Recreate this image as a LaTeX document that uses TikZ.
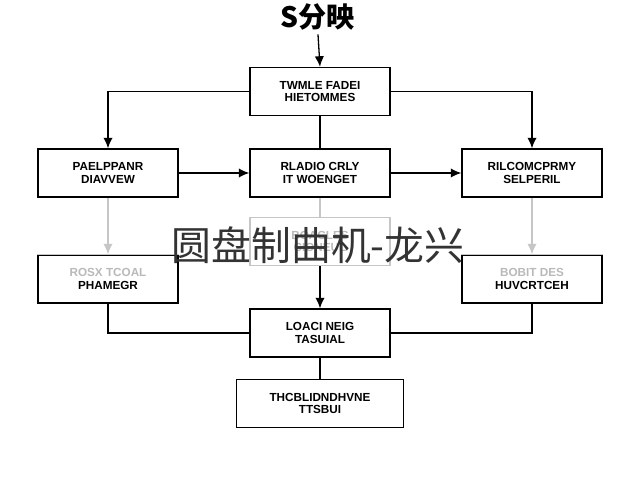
\documentclass[tikz,border=0pt]{standalone}
\usepackage{fontspec}
\setmainfont{Liberation Sans}
\newfontfamily\cjk{Noto Sans CJK SC}
\usetikzlibrary{arrows.meta}
\begin{document}
\begin{tikzpicture}[x=0.03cm,y=-0.03cm,
 box/.style={draw,line width=1.2pt,minimum width=140*0.03cm,minimum height=48*0.03cm,align=center,font=\fontsize{10}{11}\selectfont\bfseries,inner sep=1pt},
 gbox/.style={box,draw=gray!45,text=gray!55},
 ln/.style={line width=1.1pt},
 ar/.style={ln,-{Latex[length=9pt,width=8pt]}},
 gar/.style={ar,draw=gray!45}]
\useasboundingbox (0,0) rectangle (640,480);
\node[font=\cjk\fontsize{24}{26}\selectfont\bfseries] (title) at (318,17) {S分映};
\node[box] (top) at (320,91.5) {TWMLE FADEI\\HIETOMMES};
\node[box] (lm) at (108,173) {PAELPPANR\\DIAVVEW};
\node[box] (cm) at (320,173) {RLADIO CRLY\\IT WOENGET};
\node[box] (rm) at (532,173) {RILCOMCPRMY\\SELPERIL};
\node[gbox] (c3) at (320,241.5) {BOACLES\\CIONEUL};
\node[box,draw=black] (l3) at (108,279) {\textcolor{gray!55}{ROSX TCOAL}\\PHAMEGR};
\node[box] (r3) at (532,279) {\textcolor{gray!55}{BOBIT DES}\\HUVCRTCEH};
\draw[gray!45,line width=1.3pt] (l3.north west) -- (l3.north east);
\draw[gray!45,line width=1.3pt] (r3.north west) -- (r3.north east);
\node[box] (b1) at (320,333) {LOACI NEIG\\TASUIAL};
\node[box,minimum width=167*0.03cm] (b2) at (320,403.5) {THCBLIDNDHVNE\\TTSBUI};
\draw[ar] (title.south) -- (top.north);
\draw[ar] (top.west) -| (lm.north);
\draw[ar] (top.east) -| (rm.north);
\draw[ln] (top) -- (cm);
\draw[ar] (lm) -- (cm);
\draw[ar] (cm) -- (rm);
\draw[gar] (lm) -- (l3);
\draw[gar] (rm) -- (r3);
\draw[ln,gray!45] (cm) -- (c3);
\draw[ar] (c3) -- (b1);
\draw[ln] (l3.south) |- (b1.west);
\draw[ln] (r3.south) |- (b1.east);
\draw[ln] (b1) -- (b2);
\node[font=\cjk\fontsize{34}{36}\selectfont,text=black!80] (wm) at (318,245) {圆盘制曲机-龙兴};
\end{tikzpicture}
\end{document}
